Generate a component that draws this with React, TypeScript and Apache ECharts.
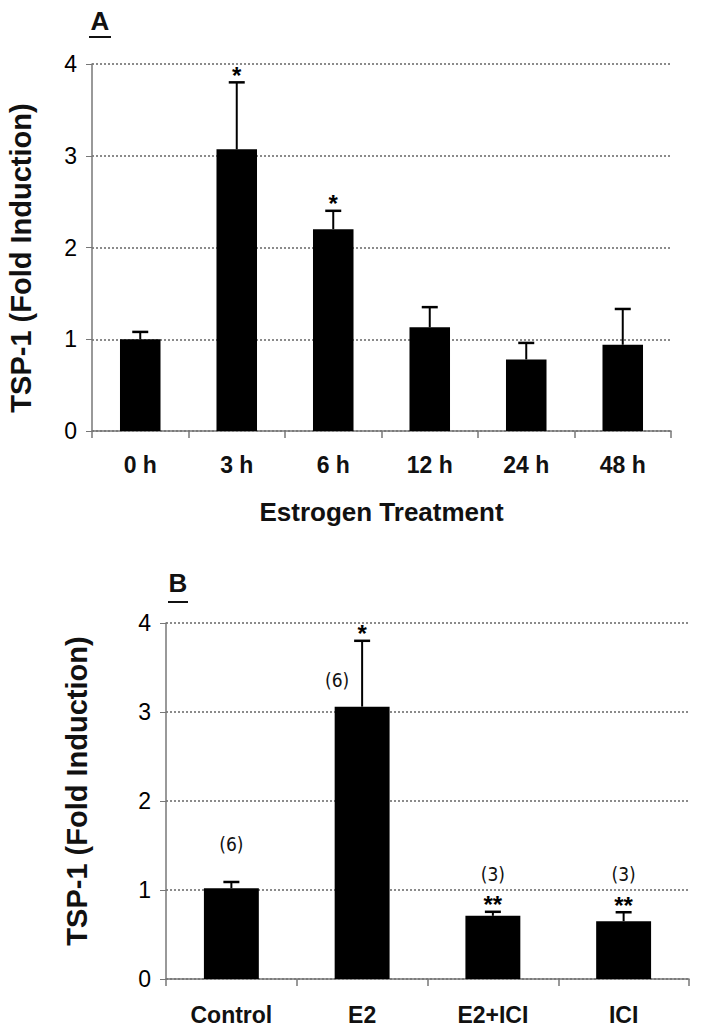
import React, { useEffect, useRef } from "react";
import * as echarts from "echarts";

const catsA = ["0 h", "3 h", "6 h", "12 h", "24 h", "48 h"];
const meanA = [1.0, 3.07, 2.2, 1.13, 0.78, 0.94];
const errA = [0.08, 0.73, 0.2, 0.22, 0.18, 0.39];
const sigA = ["", "*", "*", "", "", ""];

const catsB = ["Control", "E2", "E2+ICI", "ICI"];
const meanB = [1.02, 3.06, 0.71, 0.65];
const errB = [0.07, 0.74, 0.045, 0.1];
const nB = ["(6)", "(6)", "(3)", "(3)"];
const sigB = ["", "*", "**", "**"];

const yMin = 0;
const yMax = 4;
const yStep = 1;

const yTitle = "TSP-1 (Fold Induction)";
const xTitleA = "Estrogen Treatment";

const NARROW = '"Liberation Sans Narrow", "Arial Narrow", "DejaVu Sans Condensed", sans-serif';
const WIDE = '"Liberation Sans", Arial, sans-serif';

function errorSeries(gridIdx: number, mean: number[], err: number[]) {
  return {
    type: "custom",
    xAxisIndex: gridIdx,
    yAxisIndex: gridIdx,
    data: mean.map((m, i) => [i, m, err[i]]),
    z: 5,
    renderItem: (params: any, api: any) => {
      const i = api.value(0);
      const m = api.value(1);
      const e = api.value(2);
      const p0 = api.coord([i, m]);
      const p1 = api.coord([i, m + e]);
      const cap = 8;
      return {
        type: "group",
        children: [
          { type: "line", shape: { x1: p0[0], y1: p0[1], x2: p1[0], y2: p1[1] }, style: { stroke: "#000", lineWidth: 2 } },
          { type: "line", shape: { x1: p1[0] - cap, y1: p1[1], x2: p1[0] + cap, y2: p1[1] }, style: { stroke: "#000", lineWidth: 2.5 } },
        ],
      };
    },
  };
}

function annoSeries(gridIdx: number, mean: number[], err: number[], sig: string[], n: string[] | null) {
  return {
    type: "custom",
    xAxisIndex: gridIdx,
    yAxisIndex: gridIdx,
    data: mean.map((m, i) => [i, m, err[i]]),
    z: 6,
    renderItem: (params: any, api: any) => {
      const idx = params.dataIndex;
      const i = api.value(0);
      const m = api.value(1);
      const e = api.value(2);
      const top = api.coord([i, m + e]);
      const bar = api.coord([i, m]);
      const children: any[] = [];
      if (sig[idx]) {
        children.push({
          type: "text",
          x: top[0],
          y: top[1] - 7,
          style: { text: sig[idx], fontSize: 24, fontWeight: "bold", fontFamily: WIDE, fill: "#000", align: "center", verticalAlign: "middle" },
        });
      }
      if (n && n[idx]) {
        const tall = sig[idx] === "*";
        children.push({
          type: "text",
          x: tall ? top[0] - 25 : top[0],
          y: tall ? bar[1] - 27 : top[1] - 38,
          style: { text: n[idx], fontSize: 19, fontFamily: NARROW, fill: "#111", align: "center", verticalAlign: "middle" },
        });
      }
      return { type: "group", children };
    },
  };
}

export default function App() {
  const ref = useRef<HTMLDivElement>(null);
  useEffect(() => {
    document.body.style.margin = "0";
    const chart = echarts.init(ref.current!, null, { renderer: "svg" });
    const yAxisCommon = {
      type: "value",
      min: yMin,
      max: yMax,
      interval: yStep,
      axisLine: { show: true, lineStyle: { color: "#777", width: 1.5 } },
      axisTick: { show: true, length: 6, lineStyle: { color: "#777" } },
      axisLabel: { fontSize: 23, fontFamily: WIDE, color: "#000", margin: 15 },
      splitLine: { show: true, lineStyle: { type: [2, 2], color: "#666", width: 1.5 } },
    };
    const xAxisCommon = {
      type: "category",
      axisLine: { show: true, lineStyle: { color: "#777", width: 1.5 } },
      axisTick: { show: true, length: 7, alignWithLabel: false, lineStyle: { color: "#777", width: 1.5 } },
    };
    const xLabel = { fontSize: 23, fontWeight: "bold", fontFamily: WIDE, color: "#111" };
    const yNameStyle = { fontSize: 29, fontWeight: "bold", fontFamily: WIDE, fill: "#111", align: "center", verticalAlign: "middle" };
    chart.setOption({
      animation: false,
      backgroundColor: "#fff",
      grid: [
        { left: 92, right: 33, top: 64, height: 367 },
        { left: 166, right: 15, top: 623, height: 356 },
      ],
      xAxis: [
        {
          ...xAxisCommon,
          gridIndex: 0,
          data: catsA,
          axisLabel: { ...xLabel, margin: 22 },
          name: xTitleA,
          nameLocation: "middle",
          nameGap: 68,
          nameTextStyle: { fontSize: 26, fontWeight: "bold", fontFamily: WIDE, color: "#111" },
        },
        { ...xAxisCommon, gridIndex: 1, data: catsB, axisLabel: { ...xLabel, margin: 24 } },
      ],
      yAxis: [
        { ...yAxisCommon, gridIndex: 0 },
        { ...yAxisCommon, gridIndex: 1 },
      ],
      series: [
        { type: "bar", xAxisIndex: 0, yAxisIndex: 0, data: meanA, barWidth: "42%", itemStyle: { color: "#000" }, z: 4 },
        { type: "bar", xAxisIndex: 1, yAxisIndex: 1, data: meanB, barWidth: "42%", itemStyle: { color: "#000" }, z: 4 },
        errorSeries(0, meanA, errA),
        errorSeries(1, meanB, errB),
        annoSeries(0, meanA, errA, sigA, null),
        annoSeries(1, meanB, errB, sigB, nB),
      ],
      graphic: [
        { type: "text", x: 21, y: 258, rotation: Math.PI / 2, style: { text: yTitle, ...yNameStyle } },
        { type: "text", x: 77, y: 791, rotation: Math.PI / 2, style: { text: yTitle, ...yNameStyle } },
        { type: "text", x: 100, y: 21, style: { text: "A", fontSize: 26, fontWeight: "bold", fontFamily: WIDE, fill: "#111", align: "center", verticalAlign: "middle" } },
        { type: "line", shape: { x1: 89, y1: 37, x2: 111, y2: 37 }, style: { stroke: "#111", lineWidth: 2 } },
        { type: "text", x: 178, y: 583, style: { text: "B", fontSize: 26, fontWeight: "bold", fontFamily: WIDE, fill: "#111", align: "center", verticalAlign: "middle" } },
        { type: "line", shape: { x1: 168, y1: 602, x2: 188, y2: 602 }, style: { stroke: "#111", lineWidth: 2 } },
      ],
    });
    return () => chart.dispose();
  }, []);
  return <div ref={ref} style={{ width: 704, height: 1034 }} />;
}
